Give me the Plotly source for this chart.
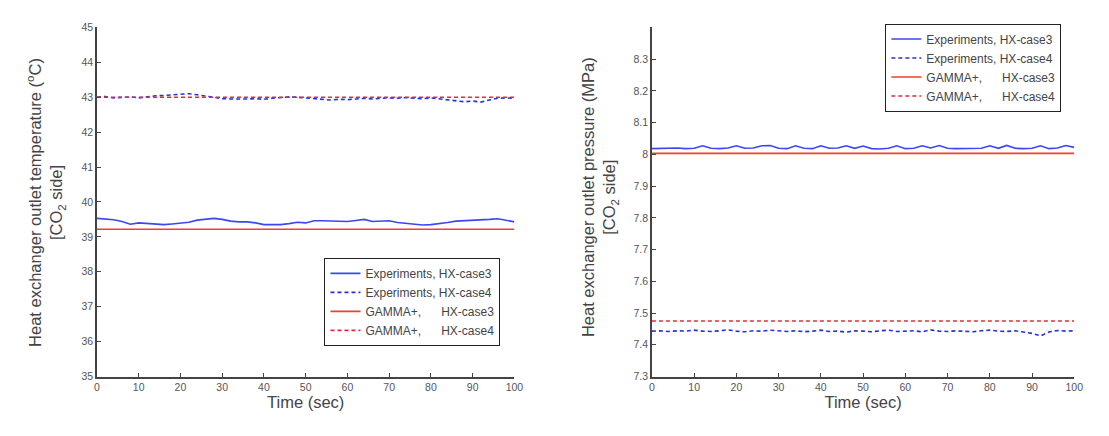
import plotly.graph_objects as go

time_exp = list(range(0, 101, 2))
time_model = [0, 100]

# Left panel: outlet temperature (degC)
temp_exp_case3 = [39.53, 39.52, 39.49, 39.44, 39.36, 39.40, 39.39, 39.36, 39.35, 39.37,
                  39.39, 39.42, 39.48, 39.51, 39.53, 39.50, 39.45, 39.43, 39.43, 39.40,
                  39.35, 39.35, 39.35, 39.38, 39.42, 39.40, 39.46, 39.46, 39.46, 39.46,
                  39.44, 39.47, 39.50, 39.44, 39.44, 39.46, 39.41, 39.38, 39.36, 39.34,
                  39.35, 39.37, 39.41, 39.45, 39.46, 39.46, 39.47, 39.50, 39.52, 39.47,
                  39.43]
temp_exp_case4 = [43.00, 43.02, 42.98, 43.00, 43.01, 42.98, 43.02, 43.04, 43.05, 43.07,
                  43.08, 43.10, 43.07, 43.03, 43.00, 42.96, 42.95, 42.94, 42.95, 42.96,
                  42.94, 42.97, 43.00, 43.01, 43.00, 42.98, 42.96, 42.93, 42.92, 42.94,
                  42.93, 42.95, 42.97, 42.95, 42.97, 42.98, 42.97, 42.99, 42.97, 42.96,
                  42.98, 42.95, 42.92, 42.89, 42.87, 42.89, 42.86, 42.92, 42.97, 42.98,
                  42.97]
temp_model_case3 = [39.22, 39.22]
temp_model_case4 = [43.00, 43.00]

# Right panel: outlet pressure (MPa)
pres_exp_case3 = [8.018, 8.019, 8.018, 8.020, 8.018, 8.019, 8.027, 8.019, 8.018, 8.020,
                  8.027, 8.019, 8.020, 8.027, 8.028, 8.019, 8.018, 8.027, 8.019, 8.018,
                  8.027, 8.019, 8.020, 8.027, 8.019, 8.026, 8.018, 8.017, 8.019, 8.027,
                  8.018, 8.019, 8.027, 8.020, 8.028, 8.019, 8.018, 8.019, 8.020, 8.019,
                  8.027, 8.019, 8.028, 8.019, 8.018, 8.019, 8.027, 8.018, 8.020, 8.028,
                  8.022]
pres_exp_case4 = [7.443, 7.444, 7.442, 7.444, 7.443, 7.446, 7.443, 7.442, 7.444, 7.447,
                  7.443, 7.441, 7.444, 7.443, 7.446, 7.443, 7.442, 7.444, 7.441, 7.443,
                  7.446, 7.442, 7.443, 7.440, 7.444, 7.443, 7.441, 7.444, 7.446, 7.442,
                  7.443, 7.444, 7.441, 7.447, 7.443, 7.442, 7.444, 7.443, 7.441, 7.444,
                  7.446, 7.443, 7.442, 7.444, 7.440, 7.436, 7.428, 7.440, 7.445, 7.443,
                  7.444]
pres_model_case3 = [8.003, 8.003]
pres_model_case4 = [7.475, 7.475]

temp_ticks = list(range(35, 46))
pres_ticks = [7.3, 7.4, 7.5, 7.6, 7.7, 7.8, 7.9, 8.0, 8.1, 8.2, 8.3]
pres_ticktext = ["7.3", "7.4", "7.5", "7.6", "7.7", "7.8", "7.9", "8", "8.1", "8.2", "8.3"]
time_ticks = list(range(0, 101, 10))

labels = ["Experiments, HX-case3", "Experiments, HX-case4",
          "GAMMA+,\u00a0\u00a0\u00a0\u00a0\u00a0 HX-case3", "GAMMA+,\u00a0\u00a0\u00a0\u00a0\u00a0 HX-case4"]

BLUE = "#3a48f2"
BLUE_D = "#2a30d8"
RED = "#f2402a"
RED_D = "#e8283a"

fig = go.Figure()
series_left = [
    (time_exp, temp_exp_case3, BLUE, "solid"),
    (time_exp, temp_exp_case4, BLUE_D, "4px,3px"),
    (time_model, temp_model_case3, RED, "solid"),
    (time_model, temp_model_case4, RED_D, "4px,3px"),
]
series_right = [
    (time_exp, pres_exp_case3, BLUE, "solid"),
    (time_exp, pres_exp_case4, BLUE_D, "4px,3px"),
    (time_model, pres_model_case3, RED, "solid"),
    (time_model, pres_model_case4, RED_D, "4px,3px"),
]
for (x, y, c, d), name in zip(series_left, labels):
    fig.add_trace(go.Scatter(x=x, y=y, mode="lines", name=name,
                             line=dict(color=c, width=1.6, dash=d),
                             xaxis="x", yaxis="y", legend="legend"))
for (x, y, c, d), name in zip(series_right, labels):
    fig.add_trace(go.Scatter(x=x, y=y, mode="lines", name=name,
                             line=dict(color=c, width=1.6, dash=d),
                             xaxis="x2", yaxis="y2", legend="legend2"))

FONT = "Liberation Sans, Arial, sans-serif"
axis_common = dict(showline=True, linecolor="#444", linewidth=1.5, ticks="inside",
                   ticklen=4, tickcolor="#444", tickwidth=1.2, showgrid=False,
                   zeroline=False, mirror=False,
                   tickfont=dict(family=FONT, size=10.5, color="#555"))
W, H = 1109, 436
ydom = [(436 - 381) / H, (436 - 22) / H]

fig.update_layout(
    width=W, height=H, margin=dict(l=0, r=0, t=0, b=0),
    paper_bgcolor="white", plot_bgcolor="white",
    font=dict(family=FONT, color="#444"),
    xaxis=dict(domain=[95 / W, 517 / W], range=[0, 100], tickvals=time_ticks,
               anchor="y", title=dict(text="Time (sec)", font=dict(size=16.5, color="#444"), standoff=3),
               **axis_common),
    yaxis=dict(domain=ydom, range=[35, 45], tickvals=temp_ticks, anchor="x", **axis_common),
    xaxis2=dict(domain=[656 / W, 1083 / W], range=[0, 100], tickvals=time_ticks,
                anchor="y2", title=dict(text="Time (sec)", font=dict(size=16.5, color="#444"), standoff=3),
                **axis_common),
    yaxis2=dict(domain=ydom, range=[7.3, 8.4], tickvals=pres_ticks, ticktext=pres_ticktext,
                anchor="x2", **axis_common),
    legend=dict(x=325 / W, y=(436 - 259) / H, xanchor="left", yanchor="top",
                bordercolor="#222", borderwidth=1, bgcolor="white",
                font=dict(family=FONT, size=12, color="#444"), tracegroupgap=0),
    legend2=dict(x=892 / W, y=(436 - 18) / H, xanchor="left", yanchor="top",
                 bordercolor="#222", borderwidth=1, bgcolor="white",
                 font=dict(family=FONT, size=12, color="#444"), tracegroupgap=0),
    showlegend=True,
)

fig.add_annotation(text="Heat exchanger outlet temperature (<sup>o</sup>C)<br>[CO<sub>2</sub> side]",
                   xref="paper", yref="paper", x=44 / W, y=(436 - 202) / H,
                   textangle=-90, showarrow=False, xanchor="center", yanchor="middle",
                   font=dict(family=FONT, size=16.5, color="#444"))
fig.add_annotation(text="Heat exchanger outlet pressure (MPa)<br>[CO<sub>2</sub> side]",
                   xref="paper", yref="paper", x=603 / W, y=(436 - 196) / H,
                   textangle=-90, showarrow=False, xanchor="center", yanchor="middle",
                   font=dict(family=FONT, size=16.5, color="#444"))

fig.write_html("out.html")
